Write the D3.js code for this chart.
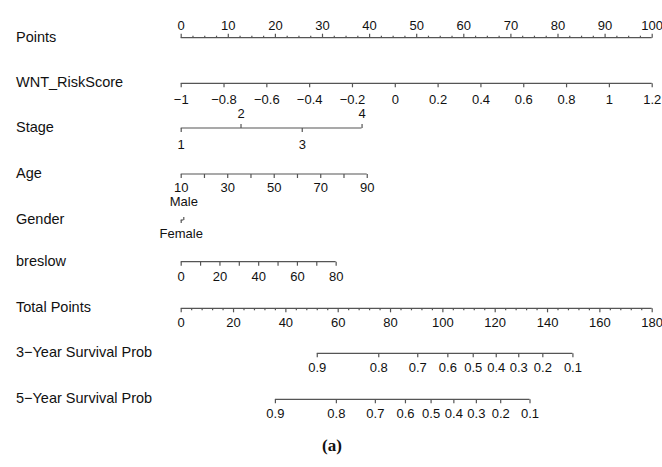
<!DOCTYPE html>
<html>
<head>
<meta charset="utf-8">
<script src="https://cdn.jsdelivr.net/npm/d3@7"></script>
<style>
  html, body { margin: 0; padding: 0; background: #fff; }
  svg { display: block; }
  .rowlab { font-family: "Liberation Sans", Arial, sans-serif; font-size: 14.5px; fill: #111; }
  .tick text { font-family: "Liberation Sans", Arial, sans-serif; font-size: 13px; fill: #111; }
  .tick line, .domain { stroke: #555; stroke-width: 1.2px; }
</style>
</head>
<body>
<svg id="chart" width="662" height="467"></svg>
<script>
// ---- nomogram data ----
const rowNames = ["Points", "WNT_RiskScore", "Stage", "Age", "Gender", "breslow",
                  "Total Points", "3\u2212Year Survival Prob", "5\u2212Year Survival Prob"];

const pointsTicks = [0, 10, 20, 30, 40, 50, 60, 70, 80, 90, 100];

const wntTicks = [-1, -0.8, -0.6, -0.4, -0.2, 0, 0.2, 0.4, 0.6, 0.8, 1, 1.2];
const wntRange = [-1, 1.2];          // maps onto 0 .. 100 points

const stageLevels = ["1", "2", "3", "4"];
const stagePoints = [0, 12.7, 25.7, 38.4];

const ageTicks = [10, 20, 30, 40, 50, 60, 70, 80, 90];
const ageLabels = [10, 30, 50, 70, 90];
const ageRange = [10, 90];
const ageMaxPoints = 39.5;

const genderLevels = ["Female", "Male"];
const genderPoints = [0, 0.55];

const breslowTicks = [0, 10, 20, 30, 40, 50, 60, 70, 80];
const breslowLabels = [0, 20, 40, 60, 80];
const breslowRange = [0, 80];
const breslowMaxPoints = 32.9;

const totalTicks = [0, 20, 40, 60, 80, 100, 120, 140, 160, 180];

const surv3Probs = [0.9, 0.8, 0.7, 0.6, 0.5, 0.4, 0.3, 0.2, 0.1];
const surv3Total = [52.0, 75.5, 90.4, 101.9, 111.6, 120.4, 129.0, 138.2, 149.7];

const surv5Probs = [0.9, 0.8, 0.7, 0.6, 0.5, 0.4, 0.3, 0.2, 0.1];
const surv5Total = [36.0, 59.3, 74.2, 85.7, 95.5, 104.2, 112.8, 122.1, 133.3];

// ---- layout ----
const svg = d3.select("#chart");
const x0 = 180.7, x1 = 651.7;
const rowY = [37.7, 83.3, 128, 174, 220, 261.7, 308.3, 353.3, 399.3];

const pts = d3.scaleLinear().domain([0, 100]).range([x0, x1]);
const tot = d3.scaleLinear().domain([0, 180]).range([x0, x1]);

const fmt = d => String(d).replace("-", "\u2212");

// row titles
svg.selectAll("text.rowlab").data(rowNames).join("text")
  .attr("class", "rowlab")
  .attr("x", 16)
  .attr("y", (d, i) => rowY[i] - 1)
  .attr("dominant-baseline", "central")
  .text(d => d);

// generic axis helper
function drawAxis(y, scale, opts) {
  const g = svg.append("g").attr("transform", `translate(0,${y})`);
  const axis = (opts.top ? d3.axisTop(scale) : d3.axisBottom(scale))
    .tickValues(opts.values)
    .tickSize(opts.size == null ? 4 : opts.size)
    .tickSizeOuter(0)
    .tickPadding(opts.pad == null ? 5.8 : opts.pad)
    .tickFormat(opts.labels ? (d => opts.labels.includes(d) ? (opts.fmt || fmt)(d) : "") : () => "");
  g.call(axis);
  if (!opts.domain) g.select(".domain").remove();
  return g;
}
function drawLine(y, xa, xb) {
  svg.append("line").attr("class", "domain")
    .attr("x1", xa).attr("x2", xb).attr("y1", y).attr("y2", y);
}

// Points (ticks upward, labels above)
const pointsMinor = d3.range(0, 100.01, 2.5).filter(v => v % 10 !== 0);
drawLine(rowY[0], pts(0), pts(100));
drawAxis(rowY[0], pts, { top: true, values: pointsMinor, size: 2 });
drawAxis(rowY[0], pts, { top: true, values: pointsTicks, labels: pointsTicks, size: 4, pad: 4 });

// WNT_RiskScore
const wnt = d3.scaleLinear().domain(wntRange).range([pts(0), pts(100)]);
drawLine(rowY[1], wnt(wntRange[0]), wnt(wntRange[1]));
drawAxis(rowY[1], wnt, { values: wntTicks, labels: wntTicks, pad: 7.3,
  fmt: d => fmt(+d.toFixed(1)) });

// Stage (alternating labels)
const stage = d3.scaleOrdinal().domain(stageLevels).range(stagePoints.map(p => pts(p)));
drawLine(rowY[2], stage("1"), stage("4"));
drawAxis(rowY[2], stage, { values: ["1", "3"], labels: ["1", "3"], pad: 7.8, fmt: d => d });
drawAxis(rowY[2], stage, { top: true, values: ["2", "4"], labels: ["2", "4"], pad: 6.5, fmt: d => d });

// Age
const age = d3.scaleLinear().domain(ageRange).range([pts(0), pts(ageMaxPoints)]);
drawLine(rowY[3], age(ageRange[0]), age(ageRange[1]));
drawAxis(rowY[3], age, { values: ageTicks, labels: ageLabels, pad: 4.8 });

// Gender
const gender = d3.scaleOrdinal().domain(genderLevels).range(genderPoints.map(p => pts(p)));
drawLine(rowY[4], gender("Female"), gender("Male"));
drawAxis(rowY[4], gender, { values: ["Female"], labels: ["Female"], size: 3, pad: 5.5, fmt: d => d });
drawAxis(rowY[4], gender, { top: true, values: ["Male"], labels: ["Male"], size: 3, pad: 10.6, fmt: d => d });

// breslow
const bres = d3.scaleLinear().domain(breslowRange).range([pts(0), pts(breslowMaxPoints)]);
drawLine(rowY[5], bres(breslowRange[0]), bres(breslowRange[1]));
drawAxis(rowY[5], bres, { values: breslowTicks, labels: breslowLabels, pad: 5.8 });

// Total Points (ticks downward)
const totalMinor = d3.range(0, 180.01, 4).filter(v => v % 20 !== 0);
drawLine(rowY[6], tot(0), tot(180));
drawAxis(rowY[6], tot, { values: totalMinor, size: 2 });
drawAxis(rowY[6], tot, { values: totalTicks, labels: totalTicks, pad: 5.8 });

// Survival probability axes, positioned on the total-points scale
function survAxis(y, probs, totals) {
  const s = d3.scaleOrdinal().domain(probs).range(totals.map(t => tot(t)));
  drawLine(y, tot(d3.min(totals)), tot(d3.max(totals)));
  drawAxis(y, s, { values: probs, labels: probs, pad: 5.3, fmt: d => String(d) });
}
survAxis(rowY[7], surv3Probs, surv3Total);
survAxis(rowY[8], surv5Probs, surv5Total);

// panel tag
svg.append("text")
  .attr("x", 332).attr("y", 451)
  .attr("text-anchor", "middle")
  .style("font-family", "'Liberation Serif', 'Times New Roman', serif")
  .style("font-size", "17px")
  .style("font-weight", "bold")
  .style("fill", "#111")
  .text("(a)");
</script>
</body>
</html>
